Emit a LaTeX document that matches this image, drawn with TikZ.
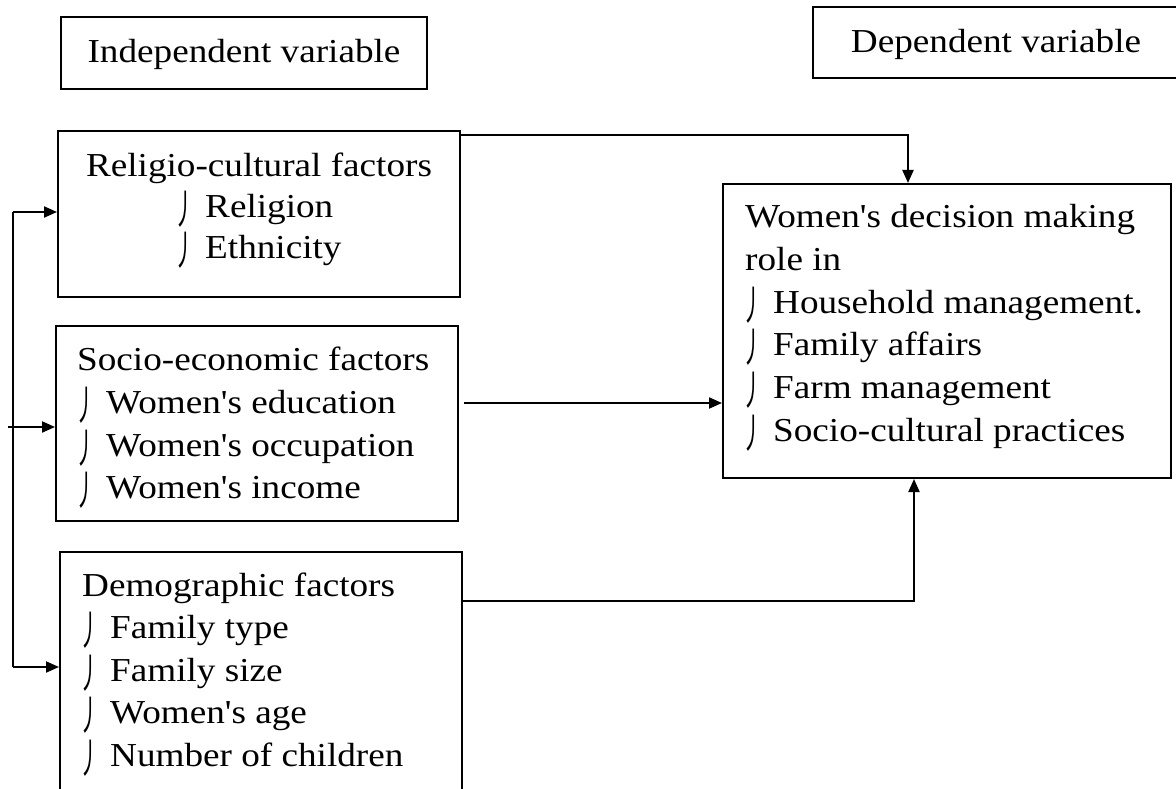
\documentclass[tikz,border=0pt]{standalone}
\usepackage{fontspec}
\setmainfont{Liberation Serif}[Ligatures=TeXOff, FakeStretch=1.11]
\newfontfamily\cjk{Noto Sans CJK SC}
\usetikzlibrary{arrows.meta,calc}
\newcommand\hookbul{\makebox[28pt][l]{\hspace*{-3pt}\raisebox{-7pt}{\scalebox{0.5}[1]{\fontsize{41}{41}\cjk 丿}}}}
\tikzset{
  box/.style={draw, line width=2pt, inner sep=0pt},
  txt/.style={anchor=base west, inner sep=0pt, font=\fontsize{33.5}{42}\selectfont},
  ctxt/.style={anchor=base, inner sep=0pt, font=\fontsize{33.5}{42}\selectfont},
  arr/.style={line width=2pt, -{Triangle[length=13pt,width=11pt]}},
  ln/.style={line width=2pt}
}
\begin{document}
\begin{tikzpicture}[x=1pt,y=-1pt]
\clip (0,0) rectangle (1176,789);
\fill[white] (0,0) rectangle (1176,789);
% boxes
\node[box, minimum width=366pt, minimum height=72pt] (ind) at (244,53) {};
\node[box, minimum width=376pt, minimum height=71pt] (dep) at (1001,42.5) {};
\node[box, minimum width=402pt, minimum height=166pt] (rel) at (259,214) {};
\node[box, minimum width=402pt, minimum height=195pt] (soc) at (257,423.5) {};
\node[box, minimum width=402pt, minimum height=250pt] (dem) at (261,677) {};
\node[box, minimum width=448pt, minimum height=294pt] (wom) at (947,331) {};
% headings
\node[ctxt] (indt) at (244,63) {Independent variable};
\node[ctxt] (dept) at (996,53) {Dependent variable};
% religio
\node[ctxt] (rel0) at (259,177) {Religio-cultural factors};
\node[txt] (rel1) at (177,218) {\hookbul Religion};
\node[txt] (rel2) at (177,258) {\hookbul Ethnicity};
% socio
\node[txt] (soc0) at (77,370) {Socio-economic factors};
\node[txt] (soc1) at (78,413) {\hookbul Women's education};
\node[txt] (soc2) at (78,456) {\hookbul Women's occupation};
\node[txt] (soc3) at (78,498) {\hookbul Women's income};
% demographic
\node[txt] (dem0) at (82,596) {Demographic factors};
\node[txt] (dem1) at (82,638) {\hookbul Family type};
\node[txt] (dem2) at (82,681) {\hookbul Family size};
\node[txt] (dem3) at (82,723) {\hookbul Women's age};
\node[txt] (dem4) at (82,766) {\hookbul Number of children};
% women
\node[txt] (wom0) at (745,227) {Women's decision making};
\node[txt] (wom1) at (745,270) {role in};
\node[txt] (wom2) at (745,313) {\hookbul Household management.};
\node[txt] (wom3) at (745,355) {\hookbul Family affairs};
\node[txt] (wom4) at (745,398) {\hookbul Farm management};
\node[txt] (wom5) at (745,441) {\hookbul Socio-cultural practices};
% connectors
\coordinate (t1) at (13,212);
\coordinate (t3) at (13,667);
\coordinate (t0) at (8,427);
\draw[ln] (t1) -- (t3);
\draw[arr] (t1) -- (t1 -| rel.west);
\draw[arr] (t3) -- (t3 -| dem.west);
\draw[arr] (t0) -- (t0 -| soc.west);
\coordinate (rs) at (460,135);
\coordinate (wt) at (908,0);
\draw[arr] (rs) -| (wt |- wom.north);
\coordinate (ms) at (464,403);
\draw[arr] (ms) -- (ms -| wom.west);
\coordinate (ds) at (462,601);
\coordinate (wb) at (914,0);
\draw[arr] (ds) -| (wb |- wom.south);
\end{tikzpicture}
\end{document}
